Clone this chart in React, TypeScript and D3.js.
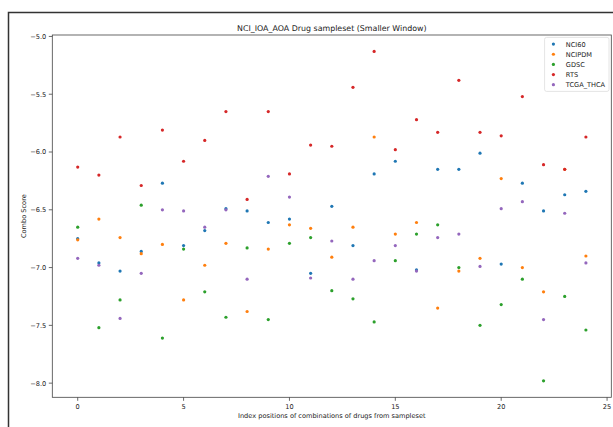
import React from "react";
import * as d3 from "d3";

const indices = d3.range(25);
const nci60 = [-6.75, -6.96, -7.03, -6.86, -6.27, -6.81, -6.68, -6.49, -6.51, -6.61, -6.58, -7.05, -6.47, -6.81, -6.19, -6.08, -7.02, -6.15, -6.15, -6.01, -6.97, -6.27, -6.51, -6.37, -6.34];
const ncipdm = [-6.76, -6.58, -6.74, -6.88, -6.80, -7.28, -6.98, -6.79, -7.38, -6.84, -6.63, -6.66, -6.91, -6.65, -5.87, -6.71, -6.61, -7.35, -7.03, -6.92, -6.23, -7.00, -7.21, -6.15, -6.90];
const gdsc = [-6.65, -7.52, -7.28, -6.46, -7.61, -6.84, -7.21, -7.43, -6.83, -7.45, -6.79, -6.74, -7.20, -7.27, -7.47, -6.94, -6.71, -6.63, -7.00, -7.50, -7.32, -7.10, -7.98, -7.25, -7.54];
const rts = [-6.13, -6.20, -5.87, -6.29, -5.81, -6.08, -5.90, -5.65, -6.41, -5.65, -6.19, -5.94, -5.95, -5.44, -5.13, -5.98, -5.72, -5.83, -5.38, -5.83, -5.86, -5.52, -6.11, -6.15, -5.87];
const tcga = [-6.92, -6.98, -7.44, -7.05, -6.50, -6.51, -6.65, -6.50, -7.10, -6.21, -6.39, -7.09, -6.77, -7.10, -6.94, -6.81, -7.03, -6.74, -6.71, -6.99, -6.49, -6.43, -7.45, -6.53, -6.96];

const seriesNames = ["NCI60", "NCIPDM", "GDSC", "RTS", "TCGA_THCA"];
const seriesColors = ["#1f77b4", "#ff7f0e", "#2ca02c", "#d62728", "#9467bd"];
const seriesValues = [nci60, ncipdm, gdsc, rts, tcga];
const xTicks = [0, 5, 10, 15, 20, 25];
const yTicks = [-5.0, -5.5, -6.0, -6.5, -7.0, -7.5, -8.0];

export default function App() {
  const W = 613, H = 427;
  const left = 52.3, right = 611.3, top = 35, bottom = 397.3;
  const allY = seriesValues.flat();
  const yMin = d3.min(allY)!, yMax = d3.max(allY)!;
  const yr = yMax - yMin;
  const x = d3.scaleLinear().domain([-1.2, 25.2]).range([left, right]);
  const y = d3.scaleLinear().domain([yMin - 0.05 * yr, yMax + 0.05 * yr]).range([bottom, top]);
  const font = "DejaVu Sans, sans-serif";
  return (
    <svg width={W} height={H} style={{ position: "absolute", left: 0, top: 0 }} fontFamily={font}>
      <rect x={0} y={0} width={W} height={H} fill="white" />
      <rect x={8.5} y={12.5} width={800} height={600} fill="none" stroke="#333" strokeWidth={1.5} />
      <text x={(left + right) / 2} y={31} textAnchor="middle" fontSize={7.9} fill="#222">
        NCI_IOA_AOA Drug sampleset (Smaller Window)
      </text>
      {seriesValues.map((vals, si) => (
        <g key={si}>
          {vals.map((v, i) => (
            <circle key={i} cx={x(indices[i])} cy={y(v)} r={1.6} fill={seriesColors[si]} />
          ))}
        </g>
      ))}
      <rect x={left} y={top} width={right - left} height={bottom - top} fill="none" stroke="#444" strokeWidth={0.8} />
      {xTicks.map((t) => (
        <g key={t}>
          <line x1={x(t)} x2={x(t)} y1={bottom} y2={bottom + 3.5} stroke="#444" strokeWidth={0.8} />
          <text x={x(t)} y={bottom + 11.3} textAnchor="middle" fontSize={6.6} fill="#222">{t}</text>
        </g>
      ))}
      {yTicks.map((t) => (
        <g key={t}>
          <line x1={left - 3.5} x2={left} y1={y(t)} y2={y(t)} stroke="#444" strokeWidth={0.8} />
          <text x={left - 6} y={y(t) + 2.4} textAnchor="end" fontSize={6.6} fill="#222">
            {t.toFixed(1).replace("-", "\u2212")}
          </text>
        </g>
      ))}
      <text x={(left + right) / 2} y={417.5} textAnchor="middle" fontSize={6.6} fill="#222">
        Index positions of combinations of drugs from sampleset
      </text>
      <text transform={`translate(25.5, ${(top + bottom) / 2}) rotate(-90)`} textAnchor="middle" fontSize={6.6} fill="#222">
        Combo Score
      </text>
      <g>
        <rect x={544.6} y={37.4} width={64.4} height={54} rx={2} fill="white" fillOpacity={0.8} stroke="#ddd" strokeWidth={0.8} />
        {seriesNames.map((n, i) => (
          <g key={n}>
            <circle cx={553.4} cy={44.1 + i * 10.15} r={1.6} fill={seriesColors[i]} />
            <text x={565.8} y={44.1 + i * 10.15 + 2.4} fontSize={6.6} fill="#222">{n}</text>
          </g>
        ))}
      </g>
    </svg>
  );
}
